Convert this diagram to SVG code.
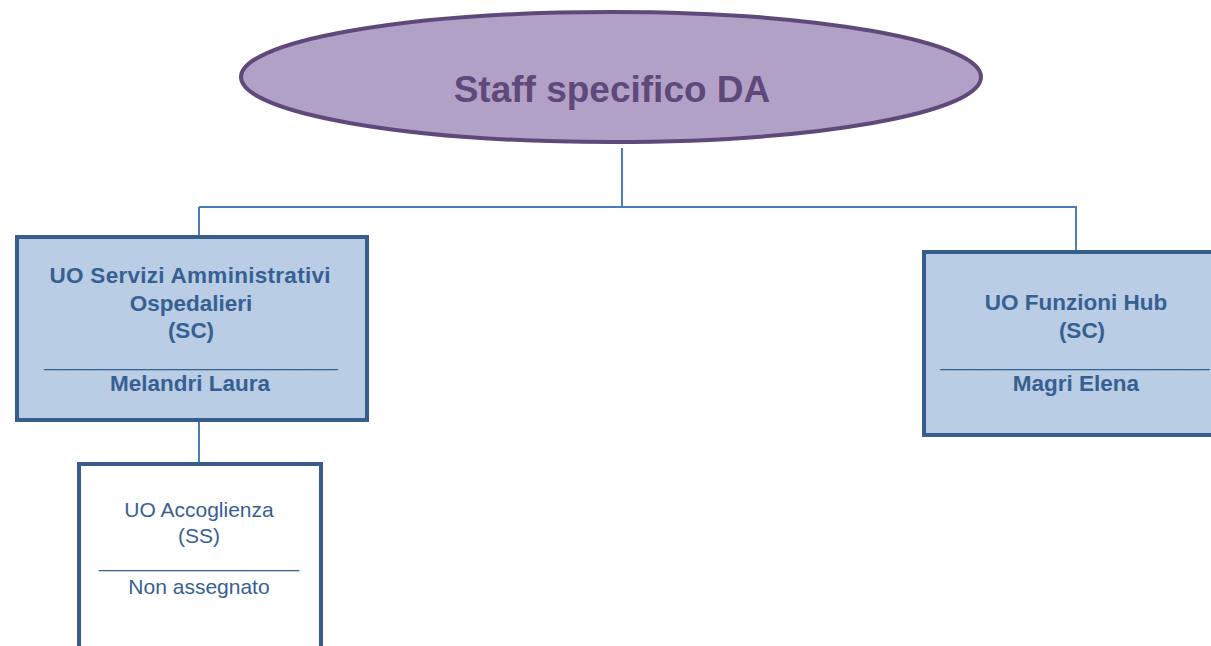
<svg xmlns="http://www.w3.org/2000/svg" width="1211" height="646" viewBox="0 0 1211 646">
<style>
.box{fill:#b9cde5;stroke:#385d8a;stroke-width:4}
.wbox{fill:#ffffff;stroke:#385d8a;stroke-width:4}
.conn{fill:none;stroke:#4a7ebb;stroke-width:2}
.tb{font-family:"Liberation Sans",Arial,sans-serif;font-weight:bold;font-size:22.5px;fill:#376092;text-anchor:middle}
.tn{font-family:"Liberation Sans",Arial,sans-serif;font-size:21px;fill:#376092;text-anchor:middle}
.sep{font-family:"Liberation Sans",Arial,sans-serif;fill:#376092;text-anchor:middle}
</style>
<rect width="1211" height="646" fill="#ffffff"/>
<g id="connectors">
<path class="conn" d="M622 148 V207"/>
<path class="conn" d="M199 207 H1077"/>
<path class="conn" d="M199 207 V237"/>
<path class="conn" d="M1076 207 V252"/>
<path class="conn" d="M199 420 V464"/>
</g>
<g id="staff">
<ellipse cx="611" cy="77" rx="370" ry="65" fill="#b2a1c7" stroke="#5f497a" stroke-width="4"/>
<text x="612" y="102" font-family="'Liberation Sans',Arial,sans-serif" font-weight="bold" font-size="37" fill="#5f497a" text-anchor="middle">Staff specifico DA</text>
</g>
<g id="uo-servizi">
<rect class="box" x="17" y="237" width="350" height="183"/>
<text class="tb" x="190" y="283" textLength="281">UO Servizi Amministrativi</text>
<text class="tb" x="191" y="311">Ospedalieri</text>
<text class="tb" x="191" y="338">(SC)</text>
<text class="sep" x="191" y="366" font-size="22">________________________</text>
<text class="tb" x="190" y="391">Melandri Laura</text>
</g>
<g id="uo-funzioni">
<rect class="box" x="924" y="252" width="304" height="183"/>
<text class="tb" x="1076" y="310">UO Funzioni Hub</text>
<text class="tb" x="1082" y="338">(SC)</text>
<text class="sep" x="1075" y="366" font-size="22">______________________</text>
<text class="tb" x="1076" y="391">Magri Elena</text>
</g>
<g id="uo-accoglienza">
<rect class="wbox" x="79" y="464" width="242" height="190"/>
<text class="tn" x="199" y="517">UO Accoglienza</text>
<text class="tn" x="199" y="543">(SS)</text>
<text class="sep" x="199" y="567" font-size="20">__________________</text>
<text class="tn" x="199" y="594">Non assegnato</text>
</g>
</svg>
